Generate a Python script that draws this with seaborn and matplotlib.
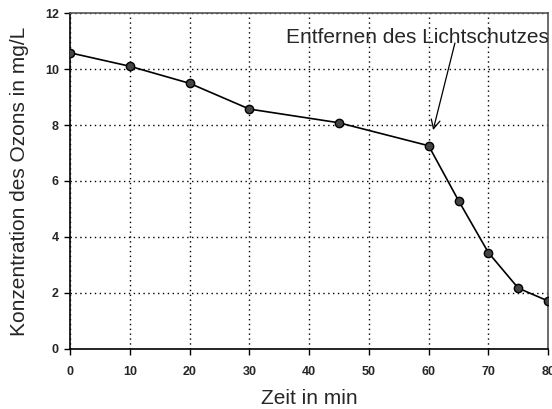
import matplotlib
matplotlib.use("Agg")
import matplotlib.pyplot as plt
import seaborn as sns
import pandas as pd

# Ozone concentration over time
zeit = [0, 10, 20, 30, 45, 60, 65, 70, 75, 80]
konzentration = [10.58, 10.1, 9.49, 8.57, 8.08, 7.26, 5.3, 3.44, 2.17, 1.71]
x_ticks = [0, 10, 20, 30, 40, 50, 60, 70, 80]
y_ticks = [0, 2, 4, 6, 8, 10, 12]

df = pd.DataFrame({"Zeit": zeit, "Konzentration": konzentration})

sns.set_style("white")
plt.rcParams["font.family"] = ["Liberation Sans", "DejaVu Sans"]

fig = plt.figure(figsize=(5.52, 4.09), dpi=100)
ax = fig.add_axes([0.127, 0.147, 0.866, 0.821])

sns.lineplot(data=df, x="Zeit", y="Konzentration", ax=ax, color="black",
             linewidth=1.2, marker="o", markersize=6, markerfacecolor="#444444",
             markeredgecolor="black", markeredgewidth=1.0, zorder=3)

ax.set_xlim(0, 80)
ax.set_ylim(0, 12)
ax.set_xticks(x_ticks)
ax.set_yticks(y_ticks)
ax.set_xticklabels([str(t) for t in x_ticks], fontsize=9, fontweight="bold")
ax.set_yticklabels([str(t) for t in y_ticks], fontsize=9, fontweight="bold")
ax.grid(True, color="black", linestyle=(0, (1, 2.5)), linewidth=1.0)
ax.tick_params(axis="x", direction="out", length=4, width=1, color="black",
               bottom=True, pad=8)
ax.tick_params(axis="y", direction="out", length=4, width=1, color="black",
               left=True, pad=4)

for side in ["left", "bottom"]:
    ax.spines[side].set_color("black")
    ax.spines[side].set_linewidth(1.2)
for side in ["top", "right"]:
    ax.spines[side].set_color("#555555")
    ax.spines[side].set_linewidth(1.2)

ax.set_xlabel("Zeit in min", fontsize=15)
ax.set_ylabel("Konzentration des Ozons in mg/L", fontsize=15)
ax.xaxis.set_label_coords(0.501, -0.118)
ax.yaxis.set_label_coords(-0.086, 0.5)

ax.text(80.05, 10.93, "Entfernen des Lichtschutzes", ha="right", va="baseline",
        fontsize=15, clip_on=False)
ax.annotate("", xy=(60.75, 7.82), xytext=(64.4, 10.93),
            arrowprops=dict(arrowstyle="->", color="black", lw=0.9,
                            shrinkA=0, shrinkB=0, mutation_scale=16),
            annotation_clip=False)

fig.savefig("out.png", dpi=100)
